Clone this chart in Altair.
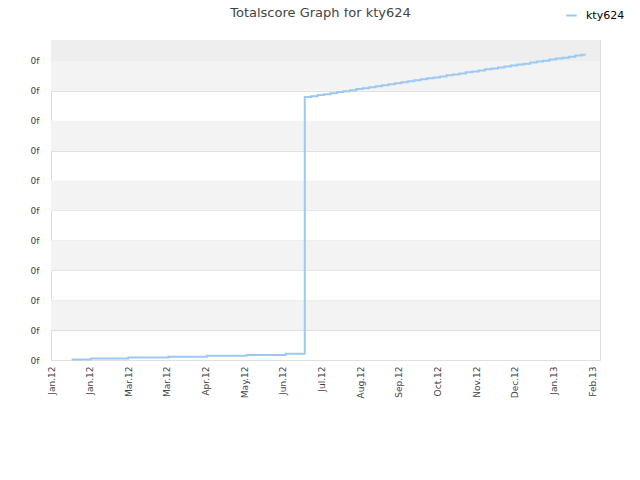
import altair as alt
import pandas as pd

# ---- data ----
series_name = "kty624"
base_date = "2012-01-01"
# day offsets from base_date of each step point
step_days = [16, 31, 60, 91, 121, 152, 182,
             197, 202, 207, 212, 217, 222, 227, 232, 237, 242,
             247, 252, 257, 262, 267, 272, 277, 282, 287, 292,
             297, 302, 307, 312, 317, 322, 327, 332, 337, 342,
             347, 352, 357, 362, 367, 372, 377, 382, 387, 392,
             397, 402, 407, 412, 415]
step_scores = [2, 5, 8, 11, 14, 17, 21,
               879, 882, 886, 889, 892, 896, 899, 902, 906, 909,
               912, 915, 919, 922, 925, 929, 932, 935, 939, 942,
               945, 948, 952, 955, 958, 962, 965, 968, 972, 975,
               978, 981, 985, 988, 991, 995, 998, 1001, 1005, 1008,
               1011, 1014, 1018, 1021, 1021]
tick_dates = ["2012-01-01", "2012-01-31", "2012-03-01", "2012-03-31",
              "2012-04-30", "2012-05-30", "2012-06-29", "2012-07-29",
              "2012-08-28", "2012-09-27", "2012-10-27", "2012-11-26",
              "2012-12-26", "2013-01-25", "2013-02-24"]
y_ticks = [0, 100, 200, 300, 400, 500, 600, 700, 800, 900, 1000]
y_max = 1070
band_lo = [100, 300, 500, 700, 900, 1000]
band_hi = [200, 400, 600, 800, 1000, 1070]
band_col = ["#f3f3f3", "#f3f3f3", "#f3f3f3", "#f3f3f3", "#f3f3f3", "#eeeeee"]

base = pd.Timestamp(base_date)
df = pd.DataFrame({
    "date": [(base + pd.Timedelta(days=d)).strftime("%Y-%m-%d") for d in step_days],
    "score": step_scores,
    "series": series_name,
})
bands = pd.DataFrame({"lo": band_lo, "hi": band_hi, "col": band_col})

tick_ms = [int(pd.Timestamp(t).value // 10**6) for t in tick_dates]
dom_start = int(pd.Timestamp("2012-01-01").value // 10**6)
dom_end = int(pd.Timestamp("2013-03-02 05:00").value // 10**6)

FONT = "DejaVu Sans"
yscale = alt.Scale(domain=[0, y_max], nice=False, zero=True)
yaxis = alt.Axis(values=y_ticks, labelExpr="'0f'", labelFont=FONT,
                 labelFontSize=9, labelColor="#444444", ticks=False,
                 domain=False, grid=True, gridColor="#e0e0e0",
                 labelPadding=12, title=None)

band_layer = alt.Chart(bands).mark_rect().encode(
    x=alt.value(0),
    x2=alt.value("width"),
    y=alt.Y("lo:Q", scale=yscale, axis=yaxis),
    y2="hi:Q",
    fill=alt.Fill("col:N", scale=None, legend=None),
)

line_layer = alt.Chart(df).mark_line(interpolate="step-after", strokeWidth=2).encode(
    x=alt.X("date:T",
            scale=alt.Scale(type="utc", domain=[dom_start, dom_end], nice=False),
            axis=alt.Axis(values=tick_ms, labelExpr="utcFormat(datum.value, '%b.%y')",
                          labelAngle=-90, labelFont=FONT, labelFontSize=9,
                          labelColor="#444444", ticks=False, domain=False,
                          grid=False, labelPadding=6, title=None,
                          labelOverlap=False)),
    y=alt.Y("score:Q", scale=yscale, axis=yaxis),
    color=alt.Color("series:N", scale=alt.Scale(range=["#9cc9f4"]),
                    legend=alt.Legend(orient="none", legendX=514, legendY=-31,
                                      title=None, symbolType="stroke",
                                      symbolStrokeWidth=2, symbolSize=110,
                                      labelOffset=8,
                                      labelFont=FONT, labelFontSize=11,
                                      labelColor="#000000")),
)

chart = alt.layer(band_layer, line_layer).properties(
    width=549,
    height=320,
    autosize=alt.AutoSizeParams(type="none"),
    padding={"left": 43, "top": 32, "right": 30, "bottom": 100},
    title=alt.TitleParams("Totalscore Graph for kty624", anchor="middle",
                          frame="group", dx=-5, offset=-11, font=FONT,
                          fontSize=13, fontWeight="normal", color="#444444"),
).configure_view(stroke="#d9d9d9", strokeWidth=1).configure(background="white")

chart.save("out.html", embed_options={"renderer": "svg", "actions": False})
